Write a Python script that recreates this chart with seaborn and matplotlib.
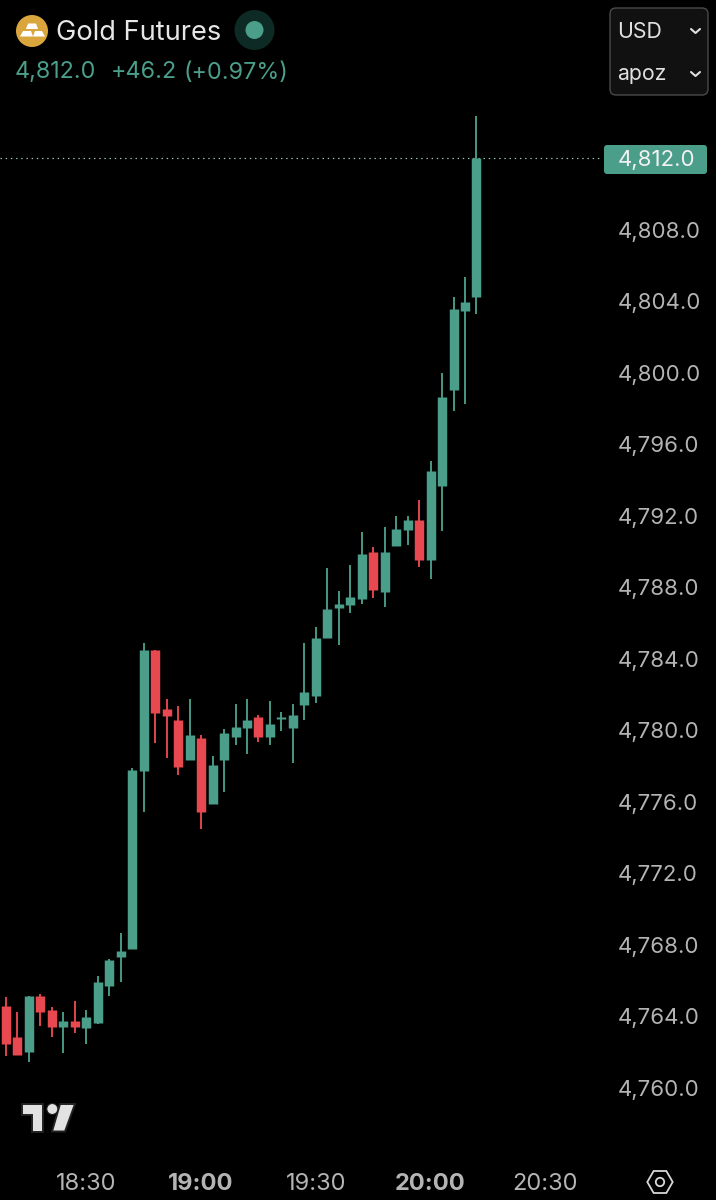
import matplotlib
matplotlib.use("Agg")
import math
import matplotlib.pyplot as plt
import pandas as pd
import seaborn as sns
from matplotlib.patches import Circle, FancyBboxPatch, Polygon, RegularPolygon
from matplotlib.lines import Line2D
from matplotlib.transforms import Affine2D

# minutes after 18:00, one candle every 3 minutes
minutes = [9, 12, 15, 18, 21, 24, 27, 30, 33, 36, 39, 42, 45, 48, 51, 54, 57, 60, 63, 66, 69,
           72, 75, 78, 81, 84, 87, 90, 93, 96, 99, 102, 105, 108, 111, 114, 117, 120, 123, 126, 129, 132]
opens = [4764.55, 4762.85, 4762.01, 4765.14, 4764.34, 4763.40, 4763.74, 4763.33, 4763.61, 4765.70, 4767.30,
         4767.75, 4777.73, 4784.48, 4781.18, 4780.56, 4778.32, 4779.55, 4775.85, 4778.32, 4779.63,
         4780.13, 4780.75, 4779.63, 4780.63, 4780.11, 4781.42, 4781.90, 4785.15, 4786.84, 4787.01,
         4787.33, 4789.96, 4787.72, 4790.31, 4791.21, 4791.77, 4789.51, 4793.65, 4799.02, 4803.44, 4804.24]
closes = [4762.44, 4761.82, 4765.12, 4764.21, 4763.40, 4763.74, 4763.40, 4763.95, 4765.92, 4767.14, 4767.66,
          4777.76, 4784.48, 4780.95, 4780.80, 4777.95, 4779.74, 4775.42, 4778.04, 4779.83, 4780.17,
          4780.54, 4779.63, 4780.34, 4780.75, 4780.84, 4782.13, 4785.15, 4786.77, 4787.05, 4787.46,
          4789.85, 4787.83, 4789.96, 4791.25, 4791.77, 4789.51, 4794.49, 4798.65, 4803.55, 4803.96, 4812.00]
highs = [4765.07, 4764.24, 4765.12, 4765.23, 4764.52, 4764.24, 4764.84, 4764.34, 4766.24, 4767.21, 4768.66,
         4777.88, 4784.89, 4784.48, 4781.74, 4781.34, 4781.74, 4779.74, 4778.55, 4780.06, 4781.46,
         4781.74, 4780.84, 4781.64, 4781.03, 4781.46, 4784.87, 4785.76, 4789.06, 4787.78, 4789.25,
         4791.08, 4790.24, 4791.36, 4791.99, 4791.99, 4792.87, 4795.05, 4799.97, 4804.24, 4805.36, 4814.37]
lows = [4761.77, 4761.82, 4761.45, 4763.44, 4762.85, 4761.95, 4763.05, 4762.44, 4763.55, 4765.14, 4765.92,
        4767.75, 4775.43, 4779.28, 4778.45, 4777.48, 4778.32, 4774.46, 4775.85, 4776.55, 4779.16,
        4778.66, 4779.35, 4779.16, 4779.96, 4778.16, 4780.56, 4781.54, 4785.15, 4784.76, 4786.56,
        4787.05, 4787.39, 4786.88, 4790.31, 4790.35, 4789.14, 4788.47, 4791.15, 4797.86, 4798.24, 4803.27]

price_ticks = [4812, 4808, 4804, 4800, 4796, 4792, 4788, 4784, 4780, 4776, 4772, 4768, 4764, 4760]
time_ticks = [30, 60, 90, 120, 150]
time_labels = ["18:30", "19:00", "19:30", "20:00", "20:30"]
last_price = 4812.0
title = "Gold Futures"
quote_parts = ["4,812.0", "+46.2", "(+0.97%)"]

GREEN = "#4A9E8A"
RED = "#E8484F"
GREY = "#B4B4B4"
FONT = "Inter"

sns.set_theme(style="dark", rc={"figure.facecolor": "black", "axes.facecolor": "black"})
plt.rcParams["font.family"] = [FONT, "DejaVu Sans"]

fig = plt.figure(figsize=(7.16, 12), dpi=100, facecolor="black")
ax = fig.add_axes([0, 0, 1, 1])

wicks, bodies = [], []
for i, (t, o, c, h, l) in enumerate(zip(minutes, opens, closes, highs, lows)):
    d = "up" if c >= o else "down"
    wicks += [dict(t=t, p=l, candle=i, d=d), dict(t=t, p=h, candle=i, d=d)]
    bodies += [dict(t=t, p=o, candle=i, d=d), dict(t=t, p=c, candle=i, d=d)]
palette = {"up": GREEN, "down": RED}

ax.axhline(last_price, xmin=0, xmax=600 / 716, color="#9CCABD", lw=0.85,
           ls=(0, (1.2, 3.2)), zorder=1)
sns.lineplot(data=pd.DataFrame(wicks), x="t", y="p", units="candle", hue="d", palette=palette,
             estimator=None, sort=False, legend=False, lw=1.35, solid_capstyle="butt", ax=ax, zorder=2)
sns.lineplot(data=pd.DataFrame(bodies), x="t", y="p", units="candle", hue="d", palette=palette,
             estimator=None, sort=False, legend=False, lw=6.8, solid_capstyle="butt", ax=ax, zorder=3)

ax.set_xlim(7.43, 194.62)
ax.set_ylim(4753.71, 4820.84)
ax.set_xlabel("")
ax.set_ylabel("")
ax.grid(False)
for s in ax.spines.values():
    s.set_visible(False)

ax.yaxis.tick_right()
ax.set_yticks(price_ticks)
ax.set_yticklabels([f"{v:,.1f}" for v in price_ticks])
ax.tick_params(axis="y", length=0, pad=-70.5, labelsize=16, labelcolor=GREY)
ax.set_xticks(time_ticks)
ax.set_xticklabels(time_labels)
ax.tick_params(axis="x", length=0, pad=-19.6, labelsize=17, labelcolor=GREY)
for lab in ax.get_xticklabels():
    if lab.get_text().endswith(":00"):
        lab.set_fontweight("bold")
ax.get_yticklabels()[0].set_color("#F2F2F2")

# overlay drawn in reference pixels
px = Affine2D().scale(1 / 716, -1 / 1200).translate(0, 1) + fig.transFigure


def add(p):
    p.set_transform(px)
    fig.add_artist(p)
    return p


# last-price badge: inside the axes, below the axis and its tick labels
badge = FancyBboxPatch((604, 145), 103, 29, boxstyle="round,pad=0,rounding_size=3", fc=GREEN, ec="none",
                       zorder=0.3, clip_on=False)
ax.add_patch(badge)
badge.set_transform(px)

# header
add(Circle((32, 31), 16, fc="#D9A53D", ec="none"))
for pts in ([(28, 23.5), (36, 23.5), (38, 29), (26, 29)],
            [(23, 31), (31, 31), (33, 36.5), (20, 36.5)],
            [(35, 31), (42, 31), (45, 36.5), (33, 36.5)]):
    add(Polygon(pts, closed=True, fc="#FFFFFF", ec="none"))
fig.text(56 / 716, 1 - 32.5 / 1200, title, color="#E6E6E6", fontsize=19.6, va="center", ha="left")
for x0, part in zip((15, 111, 183), quote_parts):
    fig.text(x0 / 716, 1 - 72.5 / 1200, part, color=GREEN, fontsize=16.8, va="center", ha="left")
add(Circle((254.5, 30), 20, fc="#0E2A25", ec="none"))
add(Circle((254.5, 30), 9, fc=GREEN, ec="none"))

# selector box
add(FancyBboxPatch((610, 8), 98, 87, boxstyle="round,pad=0,rounding_size=6", fc="#111111", ec="#4A4A4A", lw=1))
fig.text(617 / 716, 1 - 31.5 / 1200, "USD", color="#E0E0E0", fontsize=15.3, va="center", ha="left")
fig.text(617 / 716, 1 - 74 / 1200, "apoz", color="#E0E0E0", fontsize=15.3, va="center", ha="left")
for y in (31, 74):
    l = Line2D([691, 695.5, 700], [y - 2, y + 2, y - 2], color="#E0E0E0", lw=1.5, transform=px)
    fig.add_artist(l)

# logo
for pts in ([(21.7, 1104), (42.7, 1104), (42.7, 1131.5), (32, 1131.5), (32, 1115), (21.7, 1115)],
            [(60, 1104), (75, 1104), (65, 1131.5), (52, 1131.5)]):
    add(Polygon(pts, closed=True, fc="#E2E2E2", ec="#222222", lw=1.4))
add(Circle((52.3, 1109), 5.5, fc="#E2E2E2", ec="#222222", lw=0.8))

# settings icon
add(RegularPolygon((660, 1182), 6, radius=12.7, orientation=math.pi / 6, fc="none", ec="#D8D8D8", lw=1.3))
add(Circle((660, 1182), 4.2, fc="none", ec="#D8D8D8", lw=1.3))

fig.savefig("out.png", dpi=100, facecolor="black")
